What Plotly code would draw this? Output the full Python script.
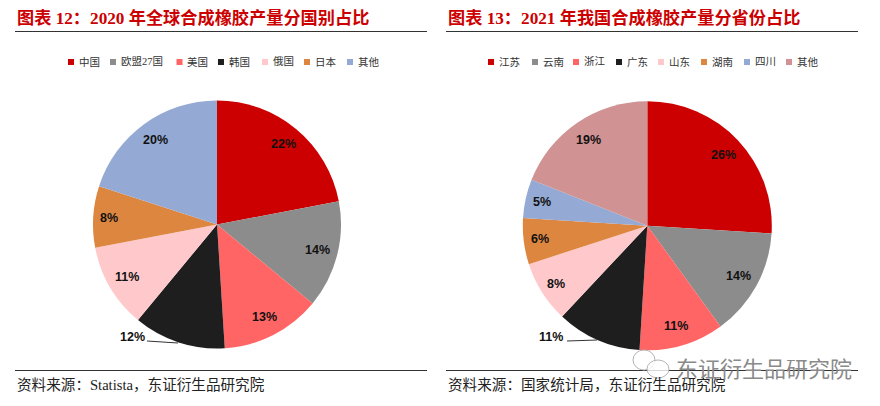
import math
import plotly.graph_objects as go

W, H = 880, 406
RED = "#cc0000"
labels_a = ["中国", "欧盟27国", "美国", "韩国", "俄国", "日本", "其他"]
values_a = [22, 14, 13, 12, 11, 8, 20]
colors_a = ["#cc0000", "#8c8c8c", "#ff6565", "#1e1e1e", "#ffc9cc", "#dd8640", "#94a9d3"]
legend_x_a = [68, 110, 176.5, 218, 262, 304, 347]
labels_b = ["江苏", "云南", "浙江", "广东", "山东", "湖南", "四川", "其他"]
values_b = [26, 14, 11, 11, 8, 6, 5, 19]
colors_b = ["#cc0000", "#8c8c8c", "#ff6565", "#1e1e1e", "#ffc9cc", "#dd8640", "#94a9d3", "#d09292"]
legend_x_b = [488, 532, 573, 616, 658, 701, 744, 786]
title_a = "图表 12：2020 年全球合成橡胶产量分国别占比"
title_b = "图表 13：2021 年我国合成橡胶产量分省份占比"
source_a = "资料来源：Statista，东证衍生品研究院"
source_b = "资料来源：国家统计局，东证衍生品研究院"
watermark = "东证衍生品研究院"

FONT_CJK = "Liberation Serif, Noto Sans CJK SC"
FONT_NUM = "Liberation Sans, Arial"


def px(x):
    return x / W


def py(y):
    return 1 - y / H


def pie(labels, values, colors, cx, cy, r):
    return go.Pie(
        labels=labels, values=values, sort=False, direction="clockwise", rotation=0,
        marker=dict(colors=colors, line=dict(width=0)),
        textinfo="none",
        domain=dict(x=[px(cx - r), px(cx + r)], y=[py(cy + r), py(cy - r)]),
        showlegend=False, hoverinfo="label+percent",
    )


fig = go.Figure()
PIE_A = (217, 224.5, 124)
PIE_B = (647.3, 225.7, 124.5)
fig.add_trace(pie(labels_a, values_a, colors_a, *PIE_A))
fig.add_trace(pie(labels_b, values_b, colors_b, *PIE_B))


def rule(x0, x1, y, color="#333333", width=1.2):
    fig.add_shape(type="line", xref="paper", yref="paper", x0=px(x0), x1=px(x1),
                  y0=py(y), y1=py(y), line=dict(color=color, width=width))


for x0, x1 in [(15, 427), (446, 858)]:
    rule(x0, x1, 31.5)
    rule(x0, x1, 370.5)


def text(x, y, s, size, color, anchor="left", weight="normal", family=FONT_CJK):
    fig.add_annotation(xref="paper", yref="paper", x=px(x), y=py(y), text=s, showarrow=False,
                       xanchor=anchor, yanchor="middle", borderpad=0, borderwidth=0,
                       font=dict(family=family, size=size, color=color, weight=weight))


text(16.5, 18.5, title_a, 17.2, RED, weight="bold")
text(447.5, 18.5, title_b, 17.2, RED, weight="bold")
text(16.5, 385, source_a, 14.6, "#222222")
text(447.5, 385, source_b, 14.6, "#222222")

# Legends
for labs, cols, xs in [(labels_a, colors_a, legend_x_a), (labels_b, colors_b, legend_x_b)]:
    for lab, col, x in zip(labs, cols, xs):
        fig.add_shape(type="rect", xref="paper", yref="paper", x0=px(x), x1=px(x + 6),
                      y0=py(65), y1=py(59), fillcolor=col, line=dict(width=0))
        text(x + 10.5, 61.5, lab, 10.5, "#333333")


# Slice labels, placed from the slice's mid-angle
def slice_labels(values, geom, skip):
    cx, cy, _ = geom
    total = sum(values)
    cum = 0
    for i, v in enumerate(values):
        mid = (cum + v / 2) / total * 2 * math.pi
        cum += v
        if i == skip:
            continue
        rad = 104 if v >= 9 else 108
        text(cx + rad * math.sin(mid), cy - rad * math.cos(mid), f"{v}%", 12.5, "#111111",
             anchor="center", weight="bold", family=FONT_NUM)


slice_labels(values_a, PIE_A, 3)
slice_labels(values_b, PIE_B, 3)

# Leader-line labels for the dark slices
for lx, ly, s, x0, y0, x1, y1 in [
    (132, 337, f"{values_a[3]}%", 147, 341, 178, 343),
    (551, 337, f"{values_b[3]}%", 567, 341, 597, 340),
]:
    text(lx, ly, s, 12.5, "#111111", anchor="center", weight="bold", family=FONT_NUM)
    fig.add_shape(type="line", xref="paper", yref="paper", x0=px(x0), x1=px(x1), y0=py(y0), y1=py(y1),
                  line=dict(color="#333333", width=1))

# Watermark
for cx, cy, rx, ry in [(644, 360, 11, 10), (658, 369, 11, 9)]:
    fig.add_shape(type="circle", xref="paper", yref="paper", x0=px(cx - rx), x1=px(cx + rx),
                  y0=py(cy + ry), y1=py(cy - ry), fillcolor="rgba(255,255,255,0.8)",
                  line=dict(color="#b5b5b5", width=1))
text(676, 367, watermark, 22, "#8a8a8a", family="Noto Sans CJK SC")

fig.update_layout(
    width=W, height=H, margin=dict(l=0, r=0, t=0, b=0, autoexpand=False),
    paper_bgcolor="white", plot_bgcolor="white",
)
fig.write_html("out.html", config={"displayModeBar": False},
               post_script="document.body.style.margin='0';")
